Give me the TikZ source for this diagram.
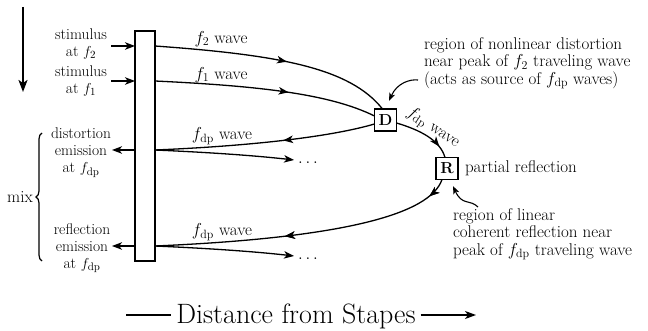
\documentclass[tikz,border=0pt]{standalone}
\usetikzlibrary{arrows.meta,decorations.markings,decorations.pathreplacing}
\begin{document}
\begin{tikzpicture}[x=1pt,y=-1pt,
  every node/.style={inner sep=0pt, outer sep=0pt},
  fs/.style={font=\fontsize{17}{17.5}\selectfont},
  fsl/.style={font=\fontsize{15.5}{17}\selectfont},
  txt/.style={fsl, align=center},
  txtl/.style={fs, align=left, anchor=west},
  wire/.style={line width=1.3pt},
  tip/.style={-{Stealth[length=10pt,width=7.5pt,inset=2.8pt]}},
  midarrow/.style={postaction={decorate}, decoration={markings,
      mark=at position #1 with {\arrow{Stealth[length=10pt,width=7.5pt,inset=2.8pt]}}}},
  boxnode/.style={draw, line width=1.5pt, minimum size=22pt, font=\fontsize{16}{17}\selectfont\bfseries},
  pointer/.style={line width=1.1pt, -{Stealth[length=8pt,width=6pt,inset=2pt]}},
]
\useasboundingbox (0,0) rectangle (648,331);

% stapes box
\node[draw, line width=1.4pt, minimum width=20pt, minimum height=230pt] (S) at (145,146) {};
\coordinate (a2) at (155,46);
\coordinate (a1) at (155,81);
\coordinate (b2) at (135,46);
\coordinate (b1) at (135,81);
\coordinate (c1) at (155,150);
\coordinate (c2) at (155,246);
\coordinate (d1) at (135,150);
\coordinate (d2) at (135,246);
\coordinate (o1) at (112,150);
\coordinate (o2) at (112,246);
\coordinate (i2) at (111,46);
\coordinate (i1) at (111,81);

% direction arrow
\coordinate (v1) at (23,7);
\coordinate (v2) at (23,92);
\draw[line width=2pt, -{Stealth[length=12pt,width=9pt,inset=3pt]}] (v1) -- (v2);

% D and R
\node[boxnode] (D) at (385.5,120) {D};
\node[boxnode] (R) at (447,168.5) {R};

% left texts
\node[txt] (st2) at (81,44) {stimulus\\at $f_{2}$};
\node[txt] (st1) at (81,81) {stimulus\\at $f_{1}$};
\node[txt] (de) at (81,153) {distortion\\emission\\at $f_{\mathrm{dp}}$};
\node[txt] (re) at (82,248) {reflection\\emission\\at $f_{\mathrm{dp}}$};
\node[fs] (mix) at (20,197) {mix};
\coordinate (br1) at (42,261);
\coordinate (br2) at (42,133);
\draw[line width=1.2pt, decorate, decoration={brace, amplitude=6pt}] (br1) -- (br2);

% stimulus arrows
\draw[wire, tip] (i2) -- (b2);
\draw[wire, tip] (i1) -- (b1);
% emission arrows
\draw[wire, tip] (d1) -- (o1);
\draw[wire, tip] (d2) -- (o2);

% f2 wave
\draw[wire, midarrow=0.55] (a2) .. controls (280,55) and (350,68) .. ([xshift=-3pt]D.north);
\node[fs] (lf2) at (221,39) {$f_{2}$ wave};
% f1 wave
\draw[wire, midarrow=0.6] (a1) .. controls (260,86) and (330,94) .. ([yshift=4pt]D.west);
\node[fs] (lf1) at (221,75) {$f_{1}$ wave};

% fdp wave back from D
\draw[wire, midarrow=0.42] ([yshift=-4pt]D.west) .. controls (330,137) and (250,146) .. (c1);
\draw[wire, tip] (c1) .. controls (200,152) and (250,155) .. (294,160);
\node[fs, anchor=base west] (dots1) at (298,164) {$\ldots$};
\node[fs] (lfd1) at (222,136) {$f_{\mathrm{dp}}$ wave};

% D to R
\draw[wire, midarrow=0.8] ([yshift=-3pt]D.east) .. controls (420,130) and (440,140) .. ([xshift=-2pt]R.north);
\node[fs, rotate=-34] (lfd2) at (433,128) {$f_{\mathrm{dp}}$ wave};

% R back
\draw[wire, midarrow=0.07, midarrow=0.57] ([xshift=-5pt]R.south) .. controls (430,215) and (340,238) .. (c2);
\draw[wire, tip] (c2) .. controls (200,248) and (250,251) .. (294,256);
\node[fs, anchor=base west] (dots2) at (298,260) {$\ldots$};
\node[fs] (lfd3) at (222,232) {$f_{\mathrm{dp}}$ wave};

% right texts
\node[txtl] (t1) at (424,63) {region of nonlinear distortion\\near peak of $f_{2}$ traveling wave\\(acts as source of $f_{\mathrm{dp}}$ waves)};
\node[fs, anchor=west] (pr) at (465,168) {partial reflection};
\node[txtl] (t2) at (453,234) {region of linear\\coherent reflection near\\peak of $f_{\mathrm{dp}}$ traveling wave};

% curly pointers
\coordinate (q1) at (418,80);
\coordinate (q1e) at (389,101);
\draw[pointer] (q1) .. controls (410,79) and (397,83) .. (q1e);
\coordinate (q2) at (478,207);
\coordinate (q2e) at (453,186);
\draw[pointer] (q2) .. controls (470,199) and (462,206) .. (q2e);

% bottom axis
\node[font=\fontsize{28}{30}\selectfont, anchor=base] (dist) at (296,323) {Distance from Stapes};
\coordinate (l1) at (126,315);
\coordinate (l2) at (476,315);
\draw[line width=1.3pt] (l1) -- ([xshift=-5pt]dist.west |- l1);
\draw[line width=1.3pt, -{Stealth[length=11pt,width=8pt,inset=3pt]}] ([xshift=5pt]dist.east |- l2) -- (l2);
\end{tikzpicture}
\end{document}
